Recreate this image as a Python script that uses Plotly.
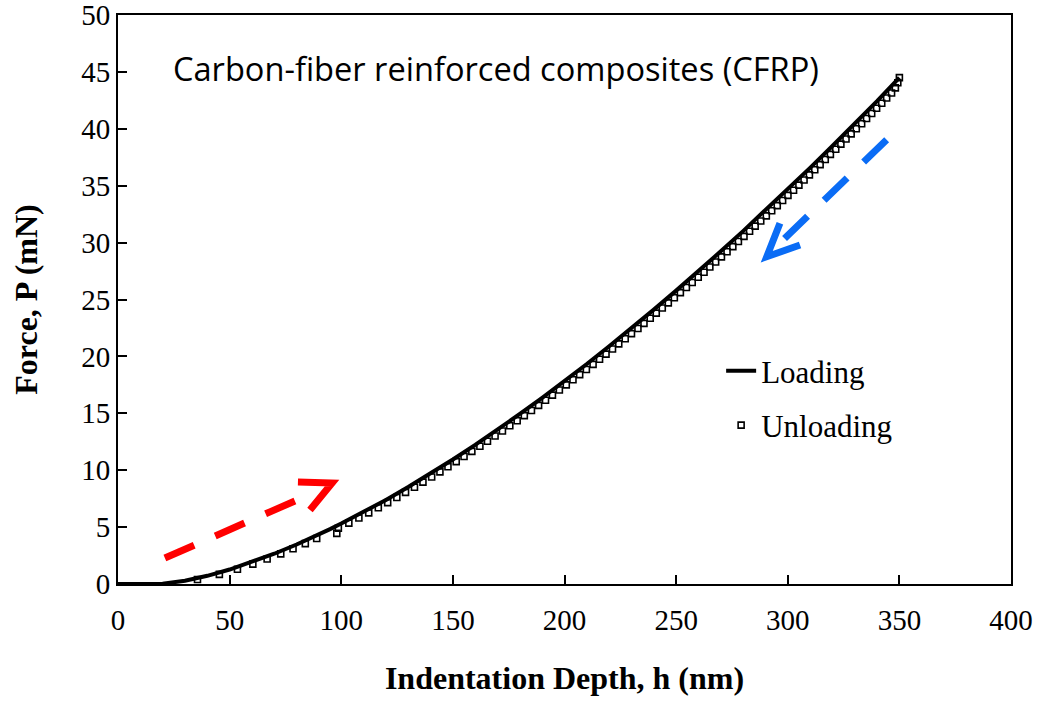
import plotly.graph_objects as go

# ---- data ----
loading_h = [0, 5, 10, 15, 20, 30, 40, 50, 60, 70, 80, 85, 90, 95, 100, 110, 120, 130,
             140, 150, 160, 170, 180, 190, 200, 210, 220, 230, 240, 250, 260, 270,
             280, 290, 300, 310, 320, 330, 340, 350]
loading_p = [0.0, 0.0, 0.0, 0.0, 0.02, 0.29, 0.72, 1.27, 1.92, 2.66, 3.47, 3.90, 4.36, 4.82,
             5.31, 6.32, 7.39, 8.52, 9.70, 10.94, 12.22, 13.55, 14.94, 16.36, 17.83,
             19.33, 20.89, 22.47, 24.11, 25.78, 27.48, 29.23, 31.01, 32.83, 34.68,
             36.57, 38.49, 40.44, 42.43, 44.50]

unloading_h = [350.0, 349.3, 348.2, 346.5, 344.3, 342.1, 339.8, 337.6, 335.3, 333.1,
               330.7, 328.4, 326.1, 323.8, 321.5, 319.1, 316.8, 314.5, 312.1, 309.7,
               307.3, 305.0, 302.6, 300.1, 297.7, 295.3, 292.8, 290.4, 287.9, 285.4,
               282.9, 280.4, 277.9, 275.4, 272.8, 270.3, 267.7, 265.1, 262.5, 259.9,
               257.2, 254.6, 251.9, 249.2, 246.5, 243.8, 241.1, 238.4, 235.6, 232.9,
               230.0, 227.2, 224.3, 221.5, 218.6, 215.7, 212.8, 209.8, 206.8, 203.8,
               200.8, 197.7, 194.6, 191.5, 188.4, 185.2, 182.0, 178.8, 175.5, 172.2,
               168.9, 165.5, 162.1, 158.5, 155.0, 151.5, 147.8, 144.2, 140.5, 136.6,
               132.8, 128.8, 124.9, 120.8, 116.6, 112.3, 107.9, 103.4, 98.7, 98.0,
               89.0, 83.9, 78.4, 72.9, 66.8, 60.4, 53.5, 45.4, 35.6]
unloading_p = [44.50, 44.05, 43.60, 43.15, 42.70, 42.25, 41.80, 41.35, 40.90, 40.45,
               40.00, 39.55, 39.10, 38.65, 38.20, 37.75, 37.30, 36.85, 36.40, 35.95,
               35.50, 35.05, 34.60, 34.15, 33.70, 33.25, 32.80, 32.35, 31.90, 31.45,
               31.00, 30.55, 30.10, 29.65, 29.20, 28.75, 28.30, 27.85, 27.40, 26.95,
               26.50, 26.05, 25.60, 25.15, 24.70, 24.25, 23.80, 23.35, 22.90, 22.45,
               22.00, 21.55, 21.10, 20.65, 20.20, 19.75, 19.30, 18.85, 18.40, 17.95,
               17.50, 17.05, 16.60, 16.15, 15.70, 15.25, 14.80, 14.35, 13.90, 13.45,
               13.00, 12.55, 12.10, 11.65, 11.20, 10.75, 10.30, 9.85, 9.40, 8.95,
               8.50, 8.05, 7.60, 7.15, 6.70, 6.25, 5.80, 5.35, 4.90, 4.45,
               4.00, 3.55, 3.10, 2.65, 2.20, 1.75, 1.30, 0.85, 0.40]

x_ticks = [0, 50, 100, 150, 200, 250, 300, 350, 400]
y_ticks = [0, 5, 10, 15, 20, 25, 30, 35, 40, 45, 50]

# arrow geometry (data units): tail, end of dashes, head polyline
red_arrow = dict(tail=(21.0, 2.28), end=(80.2, 7.38),
                 head=[(80.6, 8.96), (95.9, 8.88), (86.0, 6.50)])
blue_arrow = dict(tail=(344.3, 39.03), end=(297.9, 30.23),
                  head=[(296.5, 31.70), (290.6, 28.76), (305.5, 29.79)])

SERIF = "Liberation Serif, Times New Roman, serif"

fig = go.Figure()
fig.add_trace(go.Scatter(
    x=loading_h, y=loading_p, mode="lines", name="Loading",
    line=dict(color="black", width=4), legendgroup="a"))
fig.add_trace(go.Scatter(
    x=unloading_h, y=unloading_p, mode="markers", name="Unloading",
    marker=dict(symbol="square-open", size=6, color="black",
                line=dict(width=1.6, color="black")), legendgroup="b"))

shapes = []
for arr, col in ((red_arrow, "#ff0000"), (blue_arrow, "#0a6cf5")):
    shapes.append(dict(type="line", xref="x", yref="y",
                       x0=arr["tail"][0], y0=arr["tail"][1],
                       x1=arr["end"][0], y1=arr["end"][1],
                       line=dict(color=col, width=7, dash="32px,23px")))
    pts = arr["head"]
    path = "M {} {} L {} {} L {} {}".format(pts[0][0], pts[0][1], pts[1][0], pts[1][1],
                                           pts[2][0], pts[2][1])
    shapes.append(dict(type="path", xref="x", yref="y", path=path,
                       line=dict(color=col, width=7)))

fig.update_layout(
    width=1037, height=702,
    margin=dict(l=118, r=26, t=15, b=118),
    paper_bgcolor="white", plot_bgcolor="white",
    showlegend=True,
    legend=dict(x=0.6754, y=0.4215, xanchor="left", yanchor="top",
                bgcolor="rgba(0,0,0,0)", borderwidth=0,
                font=dict(family=SERIF, size=31, color="black"),
                tracegroupgap=11, traceorder="grouped"),
    shapes=shapes,
    annotations=[dict(text="Carbon-fiber reinforced composites (CFRP)",
                      xref="paper", yref="paper", x=0.4233, y=0.9055,
                      xanchor="center", yanchor="middle", showarrow=False,
                      font=dict(family="Open Sans", size=32.6, color="black"))],
)
fig.update_xaxes(
    range=[0, 400], tickvals=x_ticks, ticks="inside", ticklen=9, tickwidth=2,
    tickcolor="black", showline=True, linewidth=2, linecolor="black", mirror=True,
    showgrid=False, zeroline=False, automargin=False, ticklabeloverflow="allow",
    ticklabelstandoff=9,
    tickfont=dict(family=SERIF, size=29, color="black"),
    title=dict(text="<b>Indentation Depth, h (nm)</b>", standoff=32,
               font=dict(family=SERIF, size=32, color="black")))
fig.update_yaxes(
    range=[0, 50], tickvals=y_ticks, ticks="inside", ticklen=9, tickwidth=2,
    tickcolor="black", showline=True, linewidth=2, linecolor="black", mirror=True,
    showgrid=False, zeroline=False, automargin=False, ticklabeloverflow="allow",
    tickfont=dict(family=SERIF, size=29, color="black"),
    title=dict(text="<b>Force, P (mN)</b>", standoff=34,
               font=dict(family=SERIF, size=32, color="black")))

fig.write_html("out.html")
